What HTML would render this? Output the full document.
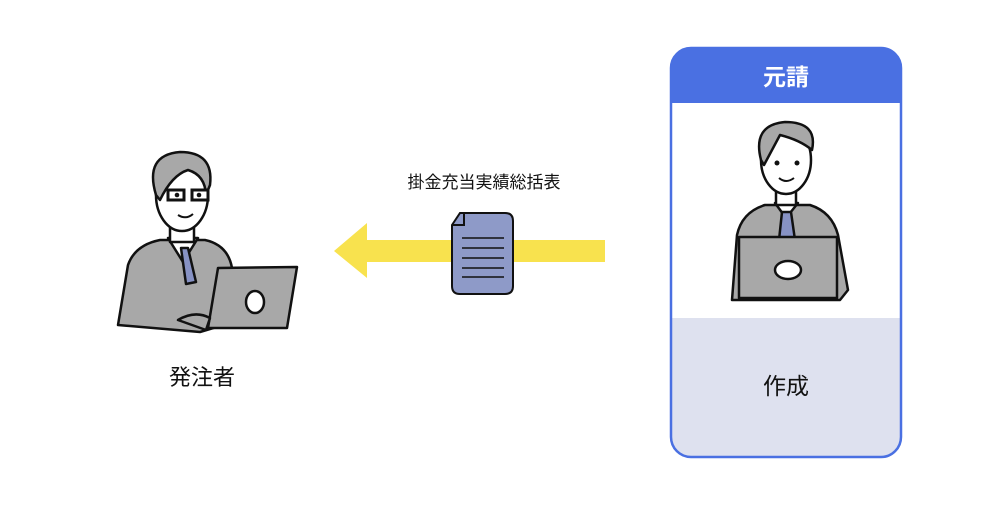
<!DOCTYPE html>
<html><head><meta charset="utf-8"><style>
body{margin:0;width:1000px;height:508px;background:#fff;overflow:hidden;font-family:"Liberation Sans","Noto Sans CJK JP",sans-serif;}
</style></head><body>
<svg width="1000" height="508" viewBox="0 0 1000 508" xmlns="http://www.w3.org/2000/svg">
<defs><clipPath id="c"><rect x="671" y="48" width="230" height="409" rx="20"/></clipPath></defs>
<g clip-path="url(#c)">
<rect x="671" y="48" width="230" height="409" fill="#fff"/>
<rect x="671" y="48" width="230" height="55" fill="#4a70e2"/>
<rect x="671" y="318" width="230" height="140" fill="#dee1ef"/>
</g>
<rect x="671" y="48" width="230" height="409" rx="20" fill="none" stroke="#4a70e2" stroke-width="2.5"/>
<text x="786" y="85" font-size="23" font-weight="bold" fill="#fff" text-anchor="middle" font-family="Liberation Sans,Noto Sans CJK JP,sans-serif">元請</text>
<text x="786" y="394" font-size="23" fill="#111" text-anchor="middle" font-family="Liberation Sans,Noto Sans CJK JP,sans-serif">作成</text>

<g stroke="#111" stroke-width="2.5" stroke-linejoin="round">
<path d="M732 300 L737 235 Q742 212 765 205 L810 205 Q832 212 838 235 L848 290 L840 300 Z" fill="#a8a8a8"/>
<path d="M775 203 L786 218 L798 203 Z" fill="#fff"/>
<path d="M782 212 L791 212 L795 240 L779 240 Z" fill="#8792c4"/>
<rect x="776" y="180" width="20" height="25" fill="#fff"/>
<ellipse cx="786" cy="160" rx="25" ry="34" fill="#fff"/>
<path d="M761 160 Q752 125 785 122 Q818 122 812 150 Q800 140 780 135 Q772 150 764 165 Z" fill="#a8a8a8"/>
<rect x="739" y="237" width="98" height="61" fill="#a8a8a8"/>
<ellipse cx="788" cy="270" rx="13" ry="9" fill="#fff"/>
</g>
<circle cx="777" cy="163" r="2.5" fill="#111"/><circle cx="797" cy="163" r="2.5" fill="#111"/>
<path d="M779 178 Q786 184 794 178" stroke="#111" stroke-width="2" fill="none"/>

<g stroke="#111" stroke-width="2.5" stroke-linejoin="round">
<path d="M118 325 L128 265 Q135 245 160 240 L205 240 Q228 245 232 268 L240 320 L200 332 Z" fill="#a8a8a8"/>
<path d="M168 238 L183 262 L198 238 Z" fill="#fff"/>
<path d="M181 248 L188 248 L196 282 L186 284 Z" fill="#8792c4"/>
<rect x="170" y="215" width="24" height="27" fill="#fff"/>
<ellipse cx="182" cy="195" rx="26" ry="36" fill="#fff"/>
<path d="M156 195 Q144 155 180 152 Q214 152 210 185 L206 195 Q205 175 188 170 Q172 175 160 200 Z" fill="#a8a8a8"/>
<path d="M218 268 L297 267 L287 328 L208 328 Z" fill="#a8a8a8"/>
<ellipse cx="255" cy="302" rx="9" ry="11" fill="#fff"/>
<path d="M178 320 Q195 310 210 318 L206 330 Z" fill="#a8a8a8"/>
</g>
<rect x="168" y="190" width="16" height="10" fill="#fff" stroke="#111" stroke-width="3"/>
<rect x="192" y="190" width="16" height="10" fill="#fff" stroke="#111" stroke-width="3"/>
<circle cx="177" cy="195" r="2.3" fill="#111"/><circle cx="199" cy="195" r="2.3" fill="#111"/>
<path d="M178 215 Q186 220 193 214" stroke="#111" stroke-width="2" fill="none"/>
<text x="202" y="385" font-size="22" fill="#111" text-anchor="middle" font-family="Liberation Sans,Noto Sans CJK JP,sans-serif">発注者</text>

<path d="M605 240 L367 240 L367 223 L334 251 L367 278 L367 262 L605 262 Z" fill="#f8e24e"/>
<path d="M460 213 L505 213 Q513 213 513 221 L513 286 Q513 294 505 294 L460 294 Q452 294 452 286 L452 225 Z" fill="#8e9ac8" stroke="#111" stroke-width="2"/>
<path d="M452 225 L464 225 L464 213" fill="none" stroke="#111" stroke-width="2"/>
<g stroke="#111" stroke-width="1.6">
<line x1="462" y1="238" x2="504" y2="238"/><line x1="462" y1="248" x2="504" y2="248"/>
<line x1="462" y1="258" x2="504" y2="258"/><line x1="462" y1="268" x2="504" y2="268"/>
<line x1="462" y1="277" x2="504" y2="277"/>
</g>
<text x="484" y="188" font-size="17" fill="#111" text-anchor="middle" font-family="Liberation Sans,Noto Sans CJK JP,sans-serif">掛金充当実績総括表</text>
</svg>
</body></html>
